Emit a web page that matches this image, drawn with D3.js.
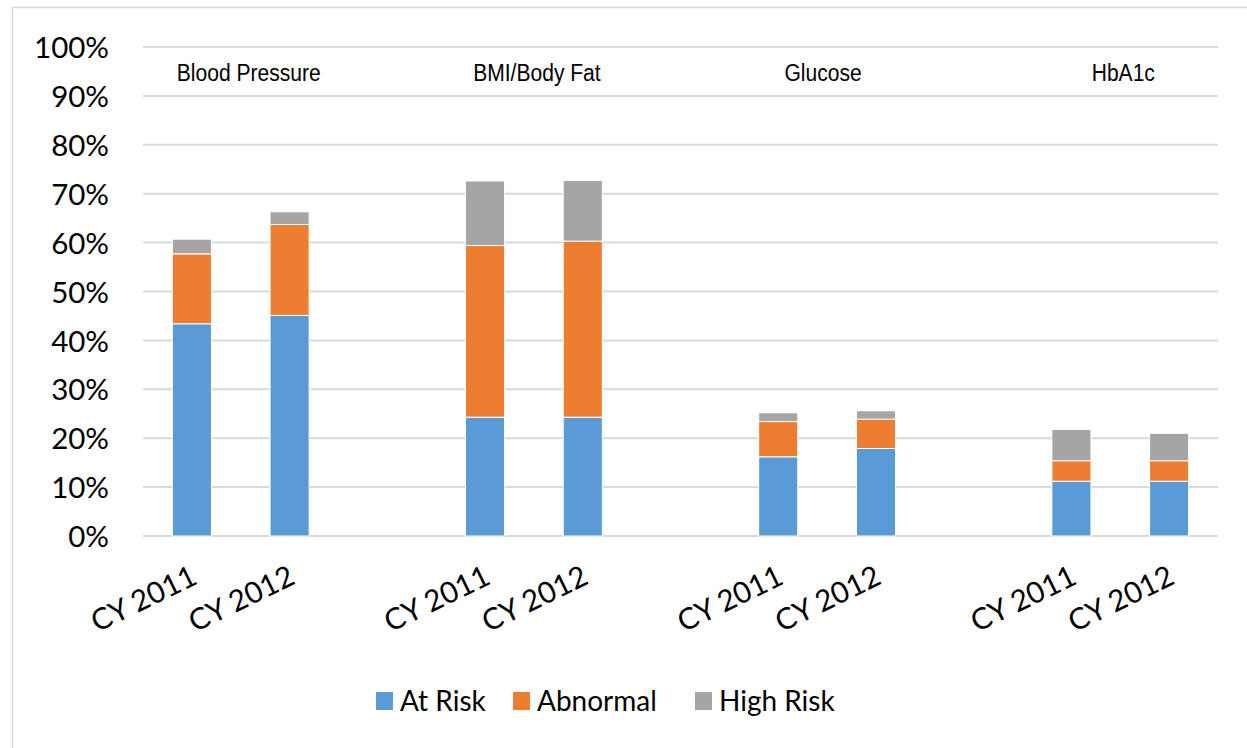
<!DOCTYPE html>
<html>
<head>
<meta charset="utf-8">
<script src="https://cdn.jsdelivr.net/npm/d3@7"></script>
<style>
  html, body { margin: 0; padding: 0; background: #fff; }
  svg { display: block; }
</style>
</head>
<body>
<svg id="chart" width="1247" height="748"></svg>
<script>
// ---- data ----
const groups = ["Blood Pressure", "BMI/Body Fat", "Glucose", "HbA1c"];
const years = ["CY 2011", "CY 2012"];
const seriesNames = ["At Risk", "Abnormal", "High Risk"];
const atRisk   = [43.4, 45.1, 24.3, 24.3, 16.2, 17.9, 11.2, 11.2];
const abnormal = [14.3, 18.6, 35.1, 36.0, 7.2, 6.0, 4.2, 4.2];
const highRisk = [3.0, 2.6, 13.2, 12.4, 1.8, 1.7, 6.4, 5.6];
const yTicks = [0, 10, 20, 30, 40, 50, 60, 70, 80, 90, 100];
const colors = ["#5b9bd5", "#ed7d31", "#a5a5a5"];

// ---- build slots: 2 bars per group, an empty slot between groups ----
const slots = [];
const bars = [];
groups.forEach((g, gi) => {
  years.forEach((yr, yi) => {
    const key = g + "|" + yr;
    slots.push(key);
    const i = gi * 2 + yi;
    bars.push({ key, group: g, year: yr, "At Risk": atRisk[i], "Abnormal": abnormal[i], "High Risk": highRisk[i] });
  });
  if (gi < groups.length - 1) slots.push("gap" + gi);
});

const svg = d3.select("#chart");
const plotLeft = 143, plotRight = 1218, plotTop = 47, plotBottom = 536;

// outer chart border
svg.append("rect")
  .attr("x", 12.5).attr("y", 7.5)
  .attr("width", 1250).attr("height", 760)
  .attr("fill", "#fff").attr("stroke", "#d9d9d9").attr("stroke-width", 1.5);

const x = d3.scaleBand().domain(slots).range([plotLeft, plotRight]).paddingInner(0.6).paddingOuter(0.3);
const y = d3.scaleLinear().domain([0, 100]).range([plotBottom, plotTop]);

// gridlines
svg.append("g")
  .selectAll("line").data(yTicks).join("line")
  .attr("x1", plotLeft).attr("x2", plotRight)
  .attr("y1", d => y(d)).attr("y2", d => y(d))
  .attr("stroke", "#d9d9d9").attr("stroke-width", 2);

// y axis labels
const yAxis = d3.axisLeft(y).tickValues(yTicks).tickFormat(d => d + "%").tickSize(0).tickPadding(0);
const ya = svg.append("g").attr("transform", `translate(${109},0)`).call(yAxis);
ya.select(".domain").remove();
ya.selectAll("text")
  .attr("font-family", "Lato, 'Open Sans', sans-serif")
  .attr("font-size", 29.5).attr("fill", "#000").attr("dy", "0.36em");

// stacked bars
const stack = d3.stack().keys(seriesNames);
const stacked = stack(bars);
svg.append("g").selectAll("g").data(stacked).join("g")
  .attr("fill", (d, i) => colors[i])
  .selectAll("rect").data(d => d).join("rect")
  .attr("x", d => x(d.data.key))
  .attr("width", x.bandwidth())
  .attr("y", d => y(d[1]))
  .attr("height", d => y(d[0]) - y(d[1]))
  .attr("stroke", "#fff").attr("stroke-width", 1);

// x labels (rotated)
svg.append("g").selectAll("text").data(bars).join("text")
  .attr("transform", d => `translate(${x(d.key) + x.bandwidth() / 2 + 7},${583}) rotate(-26)`)
  .attr("text-anchor", "end")
  .attr("font-family", "Lato, 'Open Sans', sans-serif")
  .attr("font-size", 29.5).attr("fill", "#000")
  .text(d => d.year);

// group titles
const titleCenters = groups.map((g) => {
  const a = x(g + "|" + years[0]), b = x(g + "|" + years[1]) + x.bandwidth();
  return (a + b) / 2;
});
const titleOffsets = [8, 3, -4, 3];
svg.append("g").selectAll("text").data(groups).join("text")
  .attr("transform", (d, i) => `translate(${titleCenters[i] + titleOffsets[i]},${81}) scale(0.86,1)`)
  .attr("text-anchor", "middle")
  .attr("font-family", "'Liberation Sans', Arial, sans-serif")
  .attr("font-size", 24.5).attr("fill", "#000")
  .text(d => d);

// legend
const legendX = [376, 513, 695];
const lg = svg.append("g").selectAll("g").data(seriesNames).join("g")
  .attr("transform", (d, i) => `translate(${legendX[i]},${692})`);
lg.append("rect").attr("width", 17).attr("height", 18).attr("fill", (d, i) => colors[i]);
lg.append("text").attr("x", 24).attr("y", 19)
  .attr("font-family", "Lato, 'Open Sans', sans-serif")
  .attr("font-size", 28).attr("fill", "#000")
  .text(d => d);
</script>
</body>
</html>
